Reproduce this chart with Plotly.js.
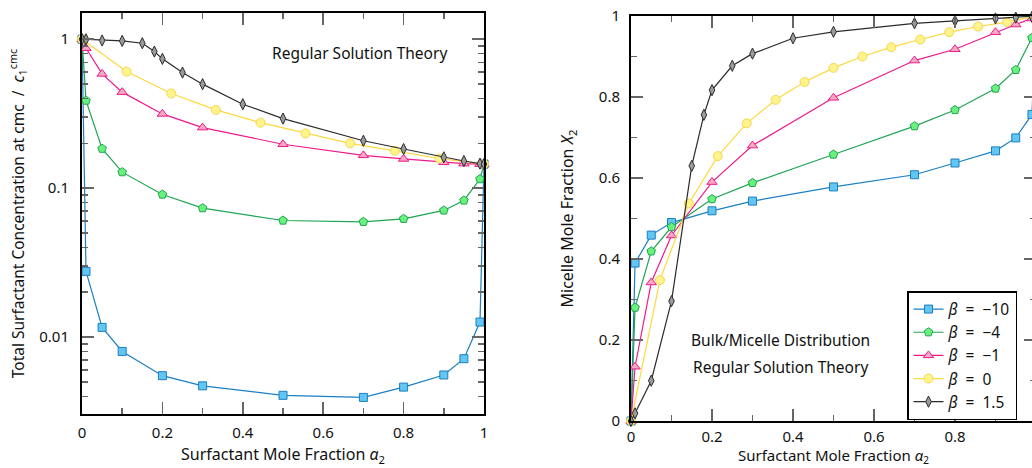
<!DOCTYPE html>
<html>
<head>
<meta charset="utf-8">
<script src="https://cdn.plot.ly/plotly-3.0.1.min.js"></script>
<style>
html,body{margin:0;padding:0;overflow:hidden;background:#fff;}
#chart{width:1040px;height:468px;}
</style>
</head>
<body>
<div id="chart"></div>
<script>
// ---------- DATA ----------
var betaLabels = ["\u221210", "\u22124", "\u22121", "0", "1.5"];

// Left panel: total surfactant concentration at cmc / c1cmc (log scale)
var alphaMain = [0, 0.01, 0.05, 0.1, 0.2, 0.3, 0.5, 0.7, 0.8, 0.9, 0.95, 0.99, 1];
var cmcBetaM10 = [1, 0.0276, 0.0116, 0.0080, 0.0055, 0.0047, 0.00406, 0.00393, 0.00461, 0.00556, 0.00715, 0.0126, 0.145];
var cmcBetaM4  = [1, 0.387, 0.184, 0.128, 0.0906, 0.0734, 0.0606, 0.0594, 0.0622, 0.0708, 0.0826, 0.115, 0.145];
var cmcBetaM1  = [1, 0.87, 0.585, 0.441, 0.315, 0.255, 0.197, 0.166, 0.157, 0.149, 0.146, 0.145, 0.145];
var alphaIdealLeft = [0, 0.111, 0.222, 0.333, 0.444, 0.556, 0.667, 0.778, 0.889, 1];
var cmcBeta0   = [1, 0.606, 0.432, 0.335, 0.275, 0.233, 0.200, 0.178, 0.158, 0.145];
var alphaPos = [0, 0.01, 0.05, 0.1, 0.15, 0.18, 0.2, 0.25, 0.3, 0.4, 0.5, 0.7, 0.8, 0.9, 0.95, 0.99, 1];
var cmcBeta15  = [1, 0.998, 0.98, 0.974, 0.94, 0.826, 0.738, 0.597, 0.499, 0.366, 0.293, 0.208, 0.183, 0.161, 0.152, 0.146, 0.145];

// Right panel: micelle mole fraction X2 (linear)
var x2BetaM10 = [0, 0.39, 0.459, 0.49, 0.519, 0.543, 0.578, 0.608, 0.637, 0.667, 0.699, 0.757, 1];
var x2BetaM4  = [0, 0.28, 0.419, 0.479, 0.548, 0.588, 0.658, 0.728, 0.768, 0.821, 0.867, 0.946, 1];
var x2BetaM1  = [0, 0.134, 0.342, 0.458, 0.59, 0.68, 0.798, 0.89, 0.918, 0.96, 0.979, 0.994, 1];
var alphaIdealRight = [0, 0.0714, 0.1429, 0.2143, 0.2857, 0.3571, 0.4286, 0.5, 0.5714, 0.6429, 0.7143, 0.7857, 0.8571, 0.9286, 1];
var x2Beta0   = [0, 0.348, 0.537, 0.654, 0.735, 0.793, 0.837, 0.872, 0.9, 0.923, 0.942, 0.96, 0.974, 0.985, 1];
var x2Beta15  = [0, 0.019, 0.0995, 0.296, 0.63, 0.756, 0.817, 0.877, 0.907, 0.945, 0.961, 0.982, 0.988, 0.994, 0.996, 0.998, 1];

var leftTickVals = [0.01, 0.1, 1];
var leftTickText = ["0.01", "0.1", "1"];

// ---------- STYLE ----------
var styles = [
  {line:"#1a7fc4", fill:"#62c6f0", symbol:"square", size:8},
  {line:"#1fa552", fill:"#6af07c", symbol:"pentagon", size:9},
  {line:"#ee1a8c", fill:"#f6a9bf", symbol:"triangle-up", size:9},
  {line:"#ffd83a", fill:"#fff38c", symbol:"circle", size:9},
  {line:"#2b2b2b", fill:"#9a9a9a", symbol:"diamond-tall", size:8}
];

var leftX = [alphaMain, alphaMain, alphaMain, alphaIdealLeft, alphaPos];
var leftY = [cmcBetaM10, cmcBetaM4, cmcBetaM1, cmcBeta0, cmcBeta15];
var rightX = [alphaMain, alphaMain, alphaMain, alphaIdealRight, alphaPos];
var rightY = [x2BetaM10, x2BetaM4, x2BetaM1, x2Beta0, x2Beta15];

var NB = "\u00a0";
var traces = [];
function mk(x, y, i, xa, ya, show) {
  var s = styles[i];
  var mline = (i === 3) ? "#f5d650" : s.line;
  return {
    x: x, y: y, xaxis: xa, yaxis: ya, type: "scatter", mode: "lines+markers",
    name: "<i>\u03b2</i>" + NB + NB + "=" + NB + NB + betaLabels[i], showlegend: show, legendgroup: "g" + i,
    line: {color: s.line, width: 1.2},
    marker: {symbol: s.symbol, size: s.size, color: s.fill, line: {color: mline, width: 1}},
    cliponaxis: false
  };
}
for (var i = 0; i < 5; i++) traces.push(mk(leftX[i], leftY[i], i, "x", "y", false));
for (var j = 0; j < 5; j++) traces.push(mk(rightX[j], rightY[j], j, "x2", "y2", true));

var minorLog = [];
[0.001, 0.01, 0.1].forEach(function (d) { for (var k = 2; k <= 9; k++) minorLog.push(+(d * k).toPrecision(3)); });

var W = 1040, H = 468;
var FONT = "Noto Sans, DejaVu Sans, sans-serif";
var tickFont = {family: FONT, size: 15, color: "#111"};
var titleFont = {family: FONT, size: 16, color: "#111"};

function linAxis(extra) {
  var a = {
    range: [0, 1], tickmode: "linear", tick0: 0, dtick: 0.2,
    ticks: "inside", ticklen: 12, tickwidth: 1.5, tickcolor: "#666",
    minor: {ticks: "inside", dtick: 0.1, tick0: 0, ticklen: 6, tickwidth: 1.5, tickcolor: "#666", showgrid: false},
    showline: true, linecolor: "#000", linewidth: 2, mirror: "allticks",
    showgrid: false, zeroline: false, tickfont: tickFont, automargin: false, fixedrange: true,
    ticklabelstandoff: 4
  };
  for (var k in extra) a[k] = extra[k];
  return a;
}

var layout = {
  width: W, height: H,
  margin: {l: 0, r: 0, t: 0, b: 0},
  paper_bgcolor: "#fff", plot_bgcolor: "#fff",
  font: {family: FONT, color: "#111"},
  showlegend: true,
  xaxis: linAxis({domain: [82 / W, 484 / W], anchor: "y",
    title: {text: "Surfactant Mole Fraction <i>\u03b1</i><sub>2</sub>", font: titleFont, standoff: 8}}),
  yaxis: {
    domain: [1 - 414 / H, 1 - 13 / H], anchor: "x", type: "log", range: [-2.517, 0.176],
    tickmode: "array", tickvals: leftTickVals, ticktext: leftTickText,
    ticks: "inside", ticklen: 12, tickwidth: 1.5, tickcolor: "#666",
    minor: {tickmode: "array", tickvals: minorLog, ticks: "inside", ticklen: 6, tickwidth: 1.5, tickcolor: "#666", showgrid: false},
    showline: true, linecolor: "#000", linewidth: 2, mirror: "allticks",
    showgrid: false, zeroline: false, tickfont: tickFont, automargin: false, fixedrange: true,
    ticklabelstandoff: 8,
    title: {text: "Total Surfactant Concentration at cmc" + NB + NB + "/" + NB + NB + "<i>c</i><sub>1</sub><sup>cmc</sup>",
            font: {family: FONT, size: 15.5, color: "#111"}, standoff: 11}
  },
  xaxis2: linAxis({domain: [631 / W, 1036 / W], anchor: "y2", ticklabelstandoff: 1}),
  yaxis2: linAxis({domain: [1 - 421 / H, 1 - 16 / H], anchor: "x2",
    ticklabelstandoff: 6,
    title: {text: "Micelle Mole Fraction <i>X</i><sub>2</sub>", font: titleFont, standoff: 21}}),
  legend: {
    x: 907 / W, y: 1 - 291 / H, xanchor: "left", yanchor: "top",
    bgcolor: "#fff", bordercolor: "#000", borderwidth: 1.5,
    font: {family: FONT, size: 15.5, color: "#111"},
    itemwidth: 30, tracegroupgap: 0
  },
  annotations: [
    {text: "Regular Solution Theory", xref: "paper", yref: "paper", x: 359 / W, y: 1 - 53 / H,
     xanchor: "center", yanchor: "middle", showarrow: false, font: {family: FONT, size: 15.5, color: "#111"}},
    {text: "Bulk/Micelle Distribution", xref: "paper", yref: "paper", x: 780 / W, y: 1 - 340 / H,
     xanchor: "center", yanchor: "middle", showarrow: false, font: {family: FONT, size: 15.5, color: "#111"}},
    {text: "Regular Solution Theory", xref: "paper", yref: "paper", x: 780 / W, y: 1 - 367 / H,
     xanchor: "center", yanchor: "middle", showarrow: false, font: {family: FONT, size: 15.5, color: "#111"}},
    {text: "Surfactant Mole Fraction <i>\u03b1</i><sub>2</sub>", xref: "paper", yref: "paper", x: 833 / W, y: 0,
     xanchor: "center", yanchor: "bottom", showarrow: false, borderpad: 0, font: {family: FONT, size: 15, color: "#111"}}
  ]
};

Plotly.newPlot("chart", traces, layout, {staticPlot: true, displayModeBar: false});
</script>
</body>
</html>
